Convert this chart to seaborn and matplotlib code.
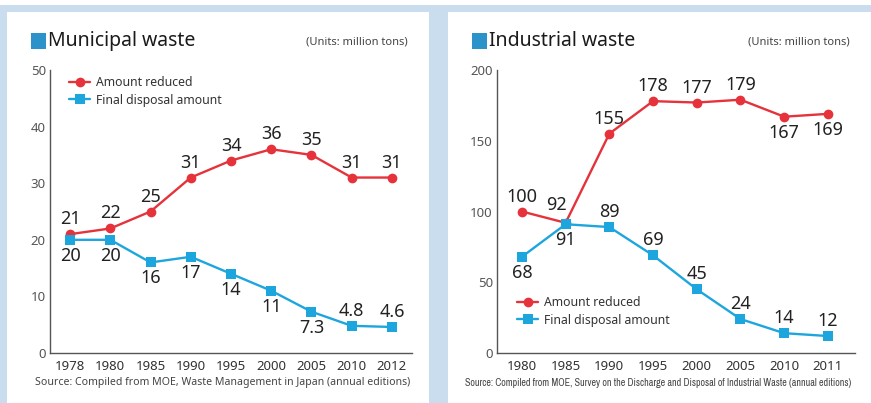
import matplotlib
matplotlib.use("Agg")
import matplotlib.pyplot as plt
from matplotlib.patches import Rectangle
from matplotlib.lines import Line2D
from matplotlib import font_manager
import numpy as np
import pandas as pd
import seaborn as sns

sns.set_style("white")
plt.rcParams["font.family"] = ["Noto Sans", "DejaVu Sans"]

# ---- data (million tons) ----
muni_years = ["1978", "1980", "1985", "1990", "1995", "2000", "2005", "2010", "2012"]
muni_reduced = [21, 22, 25, 31, 34, 36, 35, 31, 31]
muni_final = [20, 20, 16, 17, 14, 11, 7.3, 4.8, 4.6]
muni_final_pos = ["below"] * 7 + ["above"] * 2

ind_years = ["1980", "1985", "1990", "1995", "2000", "2005", "2010", "2011"]
ind_reduced = [100, 92, 155, 178, 177, 179, 167, 169]
ind_reduced_pos = ["above", "aboveleft", "above", "above", "above", "above", "below", "below"]
ind_final = [68, 91, 89, 69, 45, 24, 14, 12]
ind_final_pos = ["below", "below", "above", "above", "above", "above", "above", "above"]

series_names = ["Amount reduced", "Final disposal amount"]
RED = "#e5323b"
BLUE = "#1da6dd"
PANEL_BG = "#c9ddef"
TEXT = "#222222"
GREY = "#555555"

# narrow face for the long source line, if one is available
narrow_names = {f.name for f in font_manager.fontManager.ttflist
                if f.stretch in ("condensed", "semi-condensed", "extra-condensed")
                or "Narrow" in f.name or "Condensed" in f.name}

W, H = 871, 403
fig = plt.figure(figsize=(W / 100, H / 100), dpi=100)
fig.patch.set_facecolor(PANEL_BG)


def px_rect(x0, y0, x1, y1):
    """Figure-fraction rectangle from pixel coordinates (origin top-left)."""
    return [x0 / W, 1 - y1 / H, (x1 - x0) / W, (y1 - y0) / H]


# white panels behind the axes
for x0, y0, x1, y1 in [(0, 0, W, 5), (7, 12, 429, H), (448, 12, W, H)]:
    l, b, w, h = px_rect(x0, y0, x1, y1)
    fig.patches.append(Rectangle((l, b), w, h, transform=fig.transFigure,
                                 facecolor="white", edgecolor="none", zorder=-5))


def px_to_pt(p):
    return p * 72 / 100


def label_points(ax, xs, ys, positions, fmt):
    offsets = {
        "above": (0, 15),
        "below": (0, -16),
        "aboveleft": (-9, 18),
    }
    for x, y, p in zip(xs, ys, positions):
        dx, dy = offsets[p]
        ax.annotate(fmt(y), (x, y), xytext=(px_to_pt(dx), px_to_pt(dy)),
                    textcoords="offset points", ha="center", va="center",
                    fontsize=13, color=TEXT, fontweight="medium", zorder=5)


def fmt_val(v):
    return f"{v:g}"


def draw_panel(rect, years, reduced, final, red_pos, blue_pos, ylim, yticks,
               xlim, title, title_px, units_px, source, source_px, source_kw,
               legend_anchor):
    ax = fig.add_axes(px_rect(*rect))
    ax.set_facecolor("none")
    pos = np.arange(len(years))
    df = pd.DataFrame({
        "pos": np.concatenate([pos, pos]),
        "value": list(reduced) + list(final),
        "series": [series_names[0]] * len(years) + [series_names[1]] * len(years),
    })
    sns.lineplot(data=df, x="pos", y="value", hue="series", style="series",
                 palette={series_names[0]: RED, series_names[1]: BLUE},
                 markers={series_names[0]: "o", series_names[1]: "s"},
                 dashes=False, markersize=7, markeredgewidth=0, linewidth=1.7,
                 legend=False, ax=ax, sort=False, zorder=3)
    ax.set_xlim(*xlim)
    ax.set_ylim(*ylim)
    ax.set_yticks(yticks)
    ax.set_xticks(pos)
    ax.set_xticklabels(years)
    ax.set_xlabel("")
    ax.set_ylabel("")
    for s in ["top", "right"]:
        ax.spines[s].set_visible(False)
    for s in ["left", "bottom"]:
        ax.spines[s].set_color("#555555")
        ax.spines[s].set_linewidth(1.0)
    ax.tick_params(axis="y", direction="in", length=4, width=1, color="#555555",
                   labelsize=9.5, labelcolor=GREY, pad=3)
    ax.tick_params(axis="x", length=0, labelsize=9.5, labelcolor="#333333", pad=5)

    label_points(ax, pos, reduced, red_pos, fmt_val)
    label_points(ax, pos, final, blue_pos, fmt_val)

    handles = [
        Line2D([], [], color=RED, marker="o", markersize=7, markeredgewidth=0, lw=1.7),
        Line2D([], [], color=BLUE, marker="s", markersize=7, markeredgewidth=0, lw=1.7),
    ]
    ax.legend(handles, series_names, loc="upper left", bbox_to_anchor=legend_anchor,
              bbox_transform=fig.transFigure, frameon=False, fontsize=8.8,
              handlelength=1.75, handletextpad=0.45, labelspacing=0.38,
              borderpad=0, borderaxespad=0, labelcolor="#333333")

    # title with square marker
    sx, sy = title_px
    l, b, w, h = px_rect(sx, sy - 7.5, sx + 15, sy + 7.5)
    fig.patches.append(Rectangle((l, b), w, h, transform=fig.transFigure,
                                 facecolor="#2b93c9", edgecolor="none", zorder=2))
    fig.text((sx + 17) / W, 1 - sy / H, title, fontsize=14, color="#1a1a1a",
             ha="left", va="center", fontweight="medium")
    ux, uy = units_px
    fig.text(ux / W, 1 - uy / H, "(Units: million tons)", fontsize=8,
             color="#444444", ha="right", va="center")
    srx, sry = source_px
    fig.text(srx / W, 1 - sry / H, source, ha="center", va="center",
             color="#444444", **source_kw)
    return ax


draw_panel(rect=(50, 70, 412, 353),
           years=muni_years, reduced=muni_reduced, final=muni_final,
           red_pos=["above"] * len(muni_years), blue_pos=muni_final_pos,
           ylim=(0, 50), yticks=[0, 10, 20, 30, 40, 50], xlim=(-0.5, 8.5),
           title="Municipal waste", title_px=(31, 41), units_px=(408, 42),
           source="Source: Compiled from MOE, Waste Management in Japan (annual editions)",
           source_px=(223, 383), source_kw=dict(fontsize=7.6),
           legend_anchor=((71 - 2) / W, 1 - 76 / H))

if narrow_names:
    ind_src_kw = dict(fontsize=7.2, family=[sorted(narrow_names)[0], "DejaVu Sans"])
else:
    ind_src_kw = dict(fontsize=6.0)

draw_panel(rect=(497, 70, 855, 353),
           years=ind_years, reduced=ind_reduced, final=ind_final,
           red_pos=ind_reduced_pos, blue_pos=ind_final_pos,
           ylim=(0, 200), yticks=[0, 50, 100, 150, 200], xlim=(-0.57, 7.62),
           title="Industrial waste", title_px=(472, 41), units_px=(850, 42),
           source="Source: Compiled from MOE, Survey on the Discharge and Disposal of Industrial Waste (annual editions)",
           source_px=(658, 383), source_kw=ind_src_kw,
           legend_anchor=((519 - 2) / W, 1 - 296 / H))

fig.savefig("out.png", dpi=100, facecolor=fig.get_facecolor())
